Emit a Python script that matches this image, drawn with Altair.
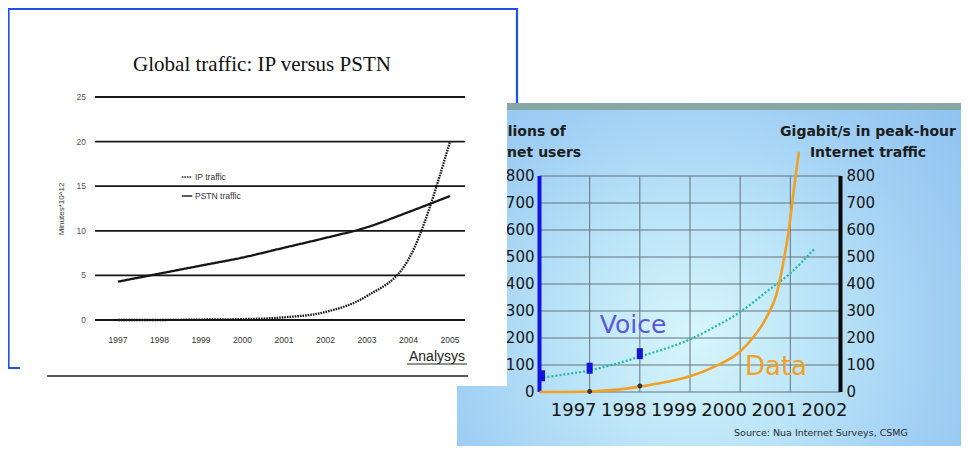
import altair as alt
import pandas as pd

# ---------------- data: left (scanned) chart ----------------
left_years = [1997, 1998, 1999, 2000, 2001, 2002, 2003, 2004, 2005]
ip_traffic = [0.0, 0.0, 0.05, 0.1, 0.3, 0.9, 2.7, 6.8, 20.0]
pstn_traffic = [4.3, 5.2, 6.1, 7.0, 8.1, 9.2, 10.4, 12.1, 13.9]
left_yticks = [0, 5, 10, 15, 20, 25]
left_series = ["IP traffic", "PSTN traffic"]

# ---------------- data: right (Voice vs Data) chart ----------------
right_domain_x = [1996, 2002]
right_years = [1997, 1998, 1999, 2000, 2001, 2002]
right_yticks = [0, 100, 200, 300, 400, 500, 600, 700, 800]
voice_x = [1996, 1996.5, 1997, 1997.5, 1998, 1998.5, 1999, 1999.5, 2000, 2000.5, 2001, 2001.48]
voice_y = [52, 65, 80, 103, 131, 160, 195, 242, 296, 368, 440, 530]
voice_mark_x = [1996.05, 1997, 1998]
voice_mark_y = [60, 88, 142]
data_x = [1996, 1997, 1997.5, 1998, 1998.5, 1999, 1999.5, 2000, 2000.25, 2000.5,
          2000.75, 2000.88, 2000.97, 2001.05, 2001.17]
data_y = [0, 2, 8, 20, 36, 58, 95, 150, 200, 268, 380, 500, 600, 720, 890]
data_dot_x = [1997, 1998]
data_dot_y = [2, 22]

# ---------------- layout helpers ----------------
OX, OY = 8, 8
W, H = 953, 438


def px(v):
    return v - OX


def py(v):
    return v - OY


xL = alt.Scale(domain=[1997, 2005], range=[px(118), px(450)], nice=False, zero=False)
yL = alt.Scale(domain=[0, 25], range=[py(320), py(97)], nice=False, zero=False)
xR = alt.Scale(domain=right_domain_x, range=[px(539.5), px(840.5)], nice=False, zero=False)
yR = alt.Scale(domain=[0, 800], range=[py(392), py(176)], nice=False, zero=False)

one = pd.DataFrame({"k": [0]})


def box(x0, x1, y0, y1, **mk):
    return alt.Chart(one).mark_rect(**mk).encode(
        x=alt.value(x0), x2=alt.value(x1), y=alt.value(y0), y2=alt.value(y1))


def label(text, x, y, **mk):
    return alt.Chart(one).mark_text(text=text, **mk).encode(
        x=alt.value(px(x)), y=alt.value(py(y)))


def hline(x0, x1, y, **mk):
    return alt.Chart(one).mark_rule(**mk).encode(
        x=alt.value(px(x0)), x2=alt.value(px(x1)), y=alt.value(py(y)))


layers = []

# blue slide frame
layers.append(box(0.5, px(517), py(9), py(368), fill="white", stroke="#2050ea", strokeWidth=2.2))

# ---------------- right chart ----------------
grad = {
    "gradient": "radial",
    "x1": 0.47, "y1": 0.62, "r1": 0,
    "x2": 0.47, "y2": 0.62, "r2": 0.75,
    "stops": [
        {"offset": 0, "color": "#d8f6fc"},
        {"offset": 0.3, "color": "#bde6f8"},
        {"offset": 0.65, "color": "#a0cff4"},
        {"offset": 1, "color": "#8abfef"},
    ],
}
layers.append(box(px(457), W, py(103), H, fill=grad))
layers.append(box(px(457), W, py(103), py(110), fill="#86a7a4"))

hgrid = pd.DataFrame({"v": right_yticks, "lo": right_domain_x[0], "hi": right_domain_x[1]})
layers.append(alt.Chart(hgrid).mark_rule(color="#66737a", strokeWidth=1).encode(
    x=alt.X("lo:Q", scale=xR, axis=None), x2="hi:Q",
    y=alt.Y("v:Q", scale=yR, axis=None)))

vgrid = pd.DataFrame({"yr": right_years[:-1], "lo": right_yticks[0], "hi": right_yticks[-1]})
layers.append(alt.Chart(vgrid).mark_rule(color="#66737a", strokeWidth=1).encode(
    x=alt.X("yr:Q", scale=xR, axis=None),
    y=alt.Y("lo:Q", scale=yR, axis=None), y2="hi:Q"))

axes_df = pd.DataFrame({"yr": right_domain_x, "lo": right_yticks[0], "hi": right_yticks[-1],
                        "side": ["left", "right"]})
layers.append(alt.Chart(axes_df).mark_rule(strokeWidth=4).encode(
    x=alt.X("yr:Q", scale=xR, axis=None),
    y=alt.Y("lo:Q", scale=yR, axis=None), y2="hi:Q",
    color=alt.Color("side:N", scale=alt.Scale(domain=["left", "right"], range=["#1414e0", "#0a0a0a"]),
                    legend=None)))

voice_df = pd.DataFrame({"x": voice_x, "y": voice_y})
layers.append(alt.Chart(voice_df).mark_line(color="#1fb8a8", strokeWidth=2.2, strokeDash=[2, 2],
                                            interpolate="monotone").encode(
    x=alt.X("x:Q", scale=xR, axis=None), y=alt.Y("y:Q", scale=yR, axis=None)))

data_df = pd.DataFrame({"x": data_x, "y": data_y})
layers.append(alt.Chart(data_df).mark_line(color="#f2a024", strokeWidth=2.6,
                                           interpolate="monotone").encode(
    x=alt.X("x:Q", scale=xR, axis=None), y=alt.Y("y:Q", scale=yR, axis=None)))

vm_df = pd.DataFrame({"x": voice_mark_x, "y": voice_mark_y})
layers.append(alt.Chart(vm_df).mark_point(shape="M-0.55,-1L0.55,-1L0.55,1L-0.55,1Z", filled=True,
                                          color="#1414d8", size=121, opacity=1).encode(
    x=alt.X("x:Q", scale=xR, axis=None), y=alt.Y("y:Q", scale=yR, axis=None)))

dd_df = pd.DataFrame({"x": data_dot_x, "y": data_dot_y})
layers.append(alt.Chart(dd_df).mark_circle(color="#333333", size=24, opacity=1).encode(
    x=alt.X("x:Q", scale=xR, axis=None), y=alt.Y("y:Q", scale=yR, axis=None)))

ylab = pd.DataFrame({"v": right_yticks, "lo": right_domain_x[0], "hi": right_domain_x[1]})
layers.append(alt.Chart(ylab).mark_text(align="right", baseline="middle", dx=-5, fontSize=15,
                                        font="DejaVu Sans", color="#161616").encode(
    x=alt.X("lo:Q", scale=xR, axis=None), y=alt.Y("v:Q", scale=yR, axis=None), text="v:Q"))
layers.append(alt.Chart(ylab).mark_text(align="left", baseline="middle", dx=6, fontSize=15,
                                        font="DejaVu Sans", color="#161616").encode(
    x=alt.X("hi:Q", scale=xR, axis=None), y=alt.Y("v:Q", scale=yR, axis=None), text="v:Q"))

xlab = pd.DataFrame({"yr": right_years, "v": right_yticks[0]})
layers.append(alt.Chart(xlab).mark_text(align="center", baseline="middle", dx=-16, dy=19,
                                        fontSize=18, font="DejaVu Sans", color="#161616").encode(
    x=alt.X("yr:Q", scale=xR, axis=None), y=alt.Y("v:Q", scale=yR, axis=None),
    text=alt.Text("yr:Q", format="d")))

tstyle = dict(fontSize=14, fontWeight="bold", font="DejaVu Sans", color="#1c1c1c",
              align="center", baseline="middle")
layers.append(label("Millions of", 525, 132, **tstyle))
layers.append(label("Internet users", 525, 153, **tstyle))
layers.append(label("Gigabit/s in peak-hour", 868, 132, **tstyle))
layers.append(label("Internet traffic", 868, 153, **tstyle))
layers.append(label("Voice", 633, 325, fontSize=25, font="DejaVu Sans", color="#5e57d4",
                    align="center", baseline="middle"))
layers.append(label("Data", 776, 367, fontSize=26, font="DejaVu Sans", color="#f2a024",
                    align="center", baseline="middle"))
layers.append(label("Source: Nua Internet Surveys, CSMG", 821, 433, fontSize=9.5,
                    font="DejaVu Sans", color="#2a2a2a", align="center", baseline="middle"))

# ---------------- left (scanned) chart ----------------
layers.append(box(px(20), px(507), py(15), py(386), fill="white"))

lgrid = pd.DataFrame({"v": left_yticks})
layers.append(alt.Chart(lgrid).mark_rule(color="#161616", strokeWidth=1.8).encode(
    x=alt.value(px(95)), x2=alt.value(px(465)),
    y=alt.Y("v:Q", scale=yL, axis=None)))

layers.append(alt.Chart(lgrid).mark_text(align="right", baseline="middle", fontSize=8.5,
                                         font="Liberation Sans", color="#555555").encode(
    x=alt.value(px(86)), y=alt.Y("v:Q", scale=yL, axis=None), text="v:Q"))

lx = pd.DataFrame({"yr": left_years})
layers.append(alt.Chart(lx).mark_text(align="center", baseline="middle", fontSize=8.5,
                                      font="Liberation Sans", color="#333333").encode(
    x=alt.X("yr:Q", scale=xL, axis=None), y=alt.value(py(340)),
    text=alt.Text("yr:Q", format="d")))

ldf = pd.DataFrame({
    "year": left_years * 2,
    "value": ip_traffic + pstn_traffic,
    "series": [left_series[0]] * len(left_years) + [left_series[1]] * len(left_years),
})
layers.append(alt.Chart(ldf).mark_line(color="#151515", strokeWidth=2.3, interpolate="monotone").encode(
    x=alt.X("year:Q", scale=xL, axis=None),
    y=alt.Y("value:Q", scale=yL, axis=None),
    strokeDash=alt.StrokeDash(
        "series:N",
        scale=alt.Scale(domain=left_series, range=[[1.6, 1], [1, 0]]),
        legend=alt.Legend(orient="none", legendX=px(181), legendY=py(171), title=None,
                          symbolType="stroke", symbolStrokeColor="#222222",
                          symbolStrokeWidth=1.5, symbolSize=110, labelFont="Liberation Sans",
                          labelFontSize=8.5, labelColor="#333333", rowPadding=8,
                          labelOffset=2, padding=0),
    ),
))

layers.append(label("Global traffic: IP versus PSTN", 262, 71, fontSize=21,
                    font="Liberation Serif", color="#111111", align="center",
                    baseline="alphabetic"))
layers.append(label("Minutes*10^12", 62, 209, fontSize=8, angle=270,
                    font="Liberation Sans", color="#333333", align="center", baseline="middle"))
layers.append(label("Analysys", 437, 357, fontSize=14, font="Liberation Sans",
                    color="#222222", align="center", baseline="middle"))
layers.append(hline(407, 467, 364, color="#222222", strokeWidth=1))
layers.append(hline(47, 468, 376, color="#222222", strokeWidth=1.6))

chart = alt.layer(*layers).resolve_scale(
    x="independent", y="independent", color="independent", strokeDash="independent"
).properties(
    width=W, height=H, padding=0,
    autosize=alt.AutoSizeParams(type="none"),
    background="white",
).configure_view(strokeWidth=0)

chart.save("out.html", embed_options={"renderer": "svg", "actions": False})
